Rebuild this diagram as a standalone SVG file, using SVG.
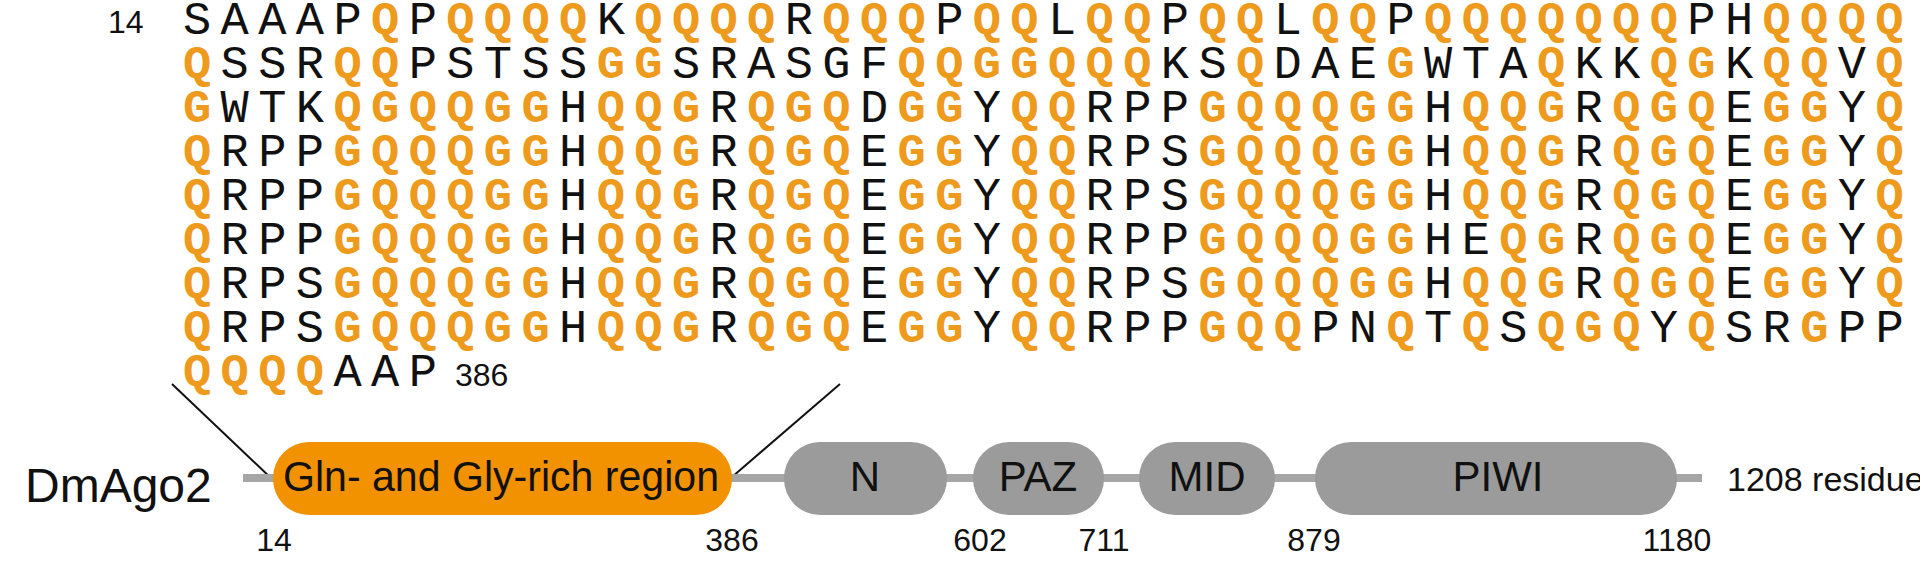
<svg xmlns="http://www.w3.org/2000/svg" width="1920" height="568" viewBox="0 0 1920 568">
<style>
.seq{font-family:"Liberation Mono",monospace;font-size:47px;letter-spacing:9.4px;fill:#111}
.o{fill:#EE9A1C;font-weight:bold}
.lab{font-family:"Liberation Sans",Arial,sans-serif;fill:#111}
.dom{fill:#9B9B9B}
.num{font-size:32px;text-anchor:middle}
</style>
<rect width="1920" height="568" fill="#fff"/>
<g id="sequence">
<text class="lab" x="108" y="33" font-size="32">14</text>
<text class="seq" x="183" y="34">SAAAP<tspan class="o">Q</tspan>P<tspan class="o">QQQQ</tspan>K<tspan class="o">QQQQ</tspan>R<tspan class="o">QQQ</tspan>P<tspan class="o">QQ</tspan>L<tspan class="o">QQ</tspan>P<tspan class="o">QQ</tspan>L<tspan class="o">QQ</tspan>P<tspan class="o">QQQQQQQ</tspan>PH<tspan class="o">QQQQ</tspan></text>
<text class="seq" x="183" y="78"><tspan class="o">Q</tspan>SSR<tspan class="o">QQ</tspan>PSTSS<tspan class="o">GG</tspan>SRASGF<tspan class="o">QQGGQQQ</tspan>KS<tspan class="o">Q</tspan>DAE<tspan class="o">G</tspan>WTA<tspan class="o">Q</tspan>KK<tspan class="o">QG</tspan>K<tspan class="o">QQ</tspan>V<tspan class="o">Q</tspan></text>
<text class="seq" x="183" y="122"><tspan class="o">G</tspan>WTK<tspan class="o">QGQQGG</tspan>H<tspan class="o">QQG</tspan>R<tspan class="o">QGQ</tspan>D<tspan class="o">GG</tspan>Y<tspan class="o">QQ</tspan>RPP<tspan class="o">GQQQGG</tspan>H<tspan class="o">QQG</tspan>R<tspan class="o">QGQ</tspan>E<tspan class="o">GG</tspan>Y<tspan class="o">Q</tspan></text>
<text class="seq" x="183" y="166"><tspan class="o">Q</tspan>RPP<tspan class="o">GQQQGG</tspan>H<tspan class="o">QQG</tspan>R<tspan class="o">QGQ</tspan>E<tspan class="o">GG</tspan>Y<tspan class="o">QQ</tspan>RPS<tspan class="o">GQQQGG</tspan>H<tspan class="o">QQG</tspan>R<tspan class="o">QGQ</tspan>E<tspan class="o">GG</tspan>Y<tspan class="o">Q</tspan></text>
<text class="seq" x="183" y="210"><tspan class="o">Q</tspan>RPP<tspan class="o">GQQQGG</tspan>H<tspan class="o">QQG</tspan>R<tspan class="o">QGQ</tspan>E<tspan class="o">GG</tspan>Y<tspan class="o">QQ</tspan>RPS<tspan class="o">GQQQGG</tspan>H<tspan class="o">QQG</tspan>R<tspan class="o">QGQ</tspan>E<tspan class="o">GG</tspan>Y<tspan class="o">Q</tspan></text>
<text class="seq" x="183" y="254"><tspan class="o">Q</tspan>RPP<tspan class="o">GQQQGG</tspan>H<tspan class="o">QQG</tspan>R<tspan class="o">QGQ</tspan>E<tspan class="o">GG</tspan>Y<tspan class="o">QQ</tspan>RPP<tspan class="o">GQQQGG</tspan>HE<tspan class="o">QG</tspan>R<tspan class="o">QGQ</tspan>E<tspan class="o">GG</tspan>Y<tspan class="o">Q</tspan></text>
<text class="seq" x="183" y="298"><tspan class="o">Q</tspan>RPS<tspan class="o">GQQQGG</tspan>H<tspan class="o">QQG</tspan>R<tspan class="o">QGQ</tspan>E<tspan class="o">GG</tspan>Y<tspan class="o">QQ</tspan>RPS<tspan class="o">GQQQGG</tspan>H<tspan class="o">QQG</tspan>R<tspan class="o">QGQ</tspan>E<tspan class="o">GG</tspan>Y<tspan class="o">Q</tspan></text>
<text class="seq" x="183" y="342"><tspan class="o">Q</tspan>RPS<tspan class="o">GQQQGG</tspan>H<tspan class="o">QQG</tspan>R<tspan class="o">QGQ</tspan>E<tspan class="o">GG</tspan>Y<tspan class="o">QQ</tspan>RPP<tspan class="o">GQQ</tspan>PN<tspan class="o">Q</tspan>T<tspan class="o">Q</tspan>S<tspan class="o">QGQ</tspan>Y<tspan class="o">Q</tspan>SR<tspan class="o">G</tspan>PP</text>
<text class="seq" x="183" y="386"><tspan class="o">QQQQ</tspan>AAP</text>
<text class="lab" x="455" y="386" font-size="32">386</text>
</g>
<g id="connectors" stroke="#111" stroke-width="2">
<line x1="172" y1="384" x2="273" y2="480"/>
<line x1="840" y1="384" x2="732" y2="477"/>
</g>
<g id="backbone"><rect x="243" y="474" width="1459" height="8" fill="#A6A6A6"/></g>
<g id="label"><text class="lab" x="25" y="502" font-size="48">DmAgo2</text></g>
<g id="gln"><rect x="273" y="442" width="459" height="73" rx="36" fill="#F39200"/><text class="lab" x="283" y="491" font-size="42" textLength="436" lengthAdjust="spacingAndGlyphs">Gln- and Gly-rich region</text></g>
<g id="N"><rect class="dom" x="784" y="442" width="163" height="73" rx="36"/><text class="lab" x="865" y="491" font-size="42" text-anchor="middle">N</text></g>
<g id="PAZ"><rect class="dom" x="973" y="442" width="131" height="73" rx="36"/><text class="lab" x="1038" y="491" font-size="42" text-anchor="middle">PAZ</text></g>
<g id="MID"><rect class="dom" x="1139" y="442" width="136" height="73" rx="36"/><text class="lab" x="1207" y="491" font-size="42" text-anchor="middle">MID</text></g>
<g id="PIWI"><rect class="dom" x="1315" y="442" width="362" height="73" rx="36"/><text class="lab" x="1498" y="491" font-size="42" text-anchor="middle">PIWI</text></g>
<g id="numbers">
<text class="lab num" x="274" y="551">14</text>
<text class="lab num" x="732" y="551">386</text>
<text class="lab num" x="980" y="551">602</text>
<text class="lab num" x="1104" y="551">711</text>
<text class="lab num" x="1314" y="551">879</text>
<text class="lab num" x="1677" y="551">1180</text>
</g>
<g id="length"><text class="lab" x="1727" y="491" font-size="34">1208 residues</text></g>
</svg>
